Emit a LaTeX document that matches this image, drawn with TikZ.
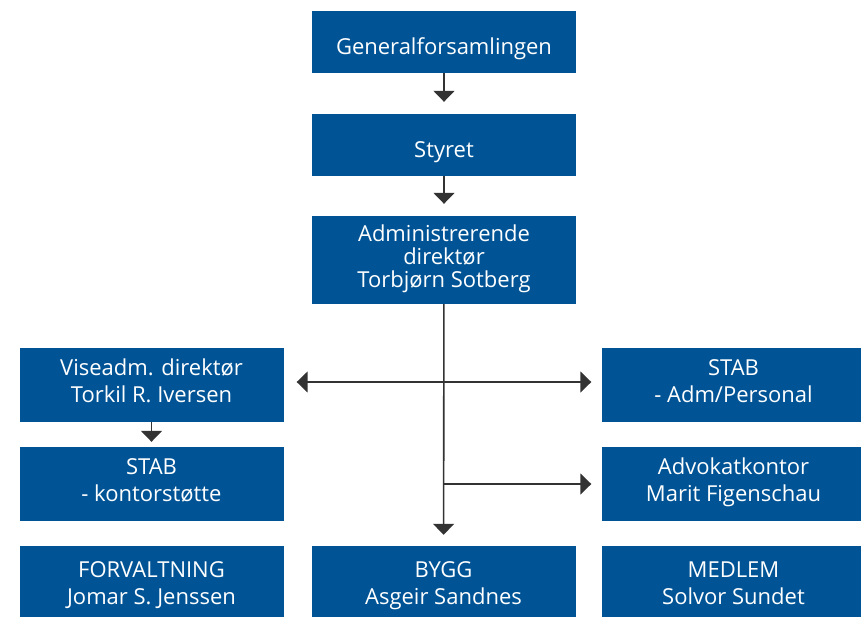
\documentclass[tikz,border=0pt]{standalone}
\usepackage{fontspec}
\setmainfont{Open Sans}
\usetikzlibrary{arrows.meta}
\definecolor{orgblue}{RGB}{0,84,150}
\definecolor{linegray}{RGB}{51,51,51}

\begin{document}
\begin{tikzpicture}[x=1pt,y=-1pt,
  box/.style={fill=orgblue, text=white, font=\fontsize{22}{27}\selectfont,
    align=center, minimum width=264pt, inner sep=0pt},
  lines/.style={execute at begin node=\rule{0pt}{24pt}, execute at end node=\strut},
  stack/.style={execute at begin node=\strut, execute at end node=\strut},
  oneline/.style={execute at begin node=\rule{0pt}{30pt}},
  arr/.style={draw=linegray, line width=1.6pt, -{Triangle[width=21pt,length=11pt]}},
  arrboth/.style={draw=linegray, line width=1.6pt,
    {Triangle[width=21pt,length=11pt]}-{Triangle[width=21pt,length=11pt]}}]
  \useasboundingbox (0,0) rectangle (861,616);
  % Top chain
  \node[box, oneline, minimum height=62pt] (gen) at (444,42) {Generalforsamlingen};
  \node[box, oneline, minimum height=62pt] (styret) at (444,145) {Styret};
  \node[box, stack, minimum height=88pt, font=\fontsize{22}{23}\selectfont] (adm) at (444,260)
    {Administrerende\\direktør\\Torbjørn Sotberg};
  % Left column
  \node[box, lines, minimum height=74pt] (vise) at (151.5,385) {Viseadm. direktør\\Torkil R. Iversen};
  \node[box, lines, minimum height=74pt] (stabk) at (151.5,484) {STAB\\- kontorstøtte};
  \node[box, lines, minimum height=82pt] (forv) at (151.5,587) {FORVALTNING\\Jomar S. Jenssen};
  % Middle
  \node[box, lines, minimum height=82pt] (bygg) at (443.5,587) {BYGG\\Asgeir Sandnes};
  % Right column
  \node[box, lines, minimum height=74pt] (stabp) at (733.5,385) {STAB\\- Adm/Personal};
  \node[box, lines, minimum height=74pt] (advokat) at (733.5,484) {Advokatkontor\\Marit Figenschau};
  \node[box, lines, minimum height=82pt] (medlem) at (733.5,587) {MEDLEM\\Solvor Sundet};
  % Arrows
  \draw[arr, shorten >=12pt] (gen) -- (styret);
  \draw[arr, shorten >=12pt] (styret) -- (adm);
  \draw[arr, shorten >=11pt] (adm) -- (bygg);
  \draw[arrboth, shorten <=13pt, shorten >=10pt] ([yshift=3pt]vise.east) -- ([yshift=3pt]stabp.west);
  \draw[arr, shorten >=10pt] (adm.south |- advokat.west) -- (advokat.west);
  \draw[arr, shorten >=5pt] (vise) -- (stabk);
\end{tikzpicture}
\end{document}
